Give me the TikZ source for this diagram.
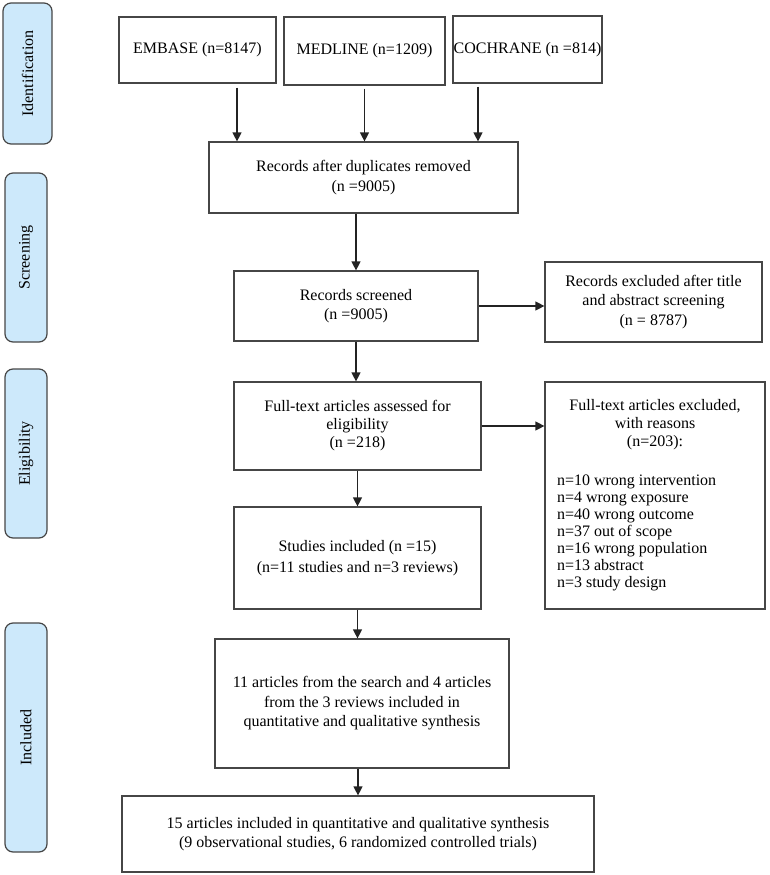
\documentclass[tikz,border=0pt]{standalone}
\usepackage{fontspec}
\setmainfont{Liberation Serif}
\usepackage{xcolor}
\usepackage{tikz}
\usetikzlibrary{arrows.meta,positioning}
\definecolor{boxgray}{RGB}{70,70,70}
\definecolor{arrowgray}{RGB}{35,35,35}
\definecolor{stageblue}{RGB}{205,233,251}
\tikzset{
  stagebox/.style={draw=boxgray, rounded corners=8pt, line width=1.2pt, fill=stageblue,
    rotate=90, inner sep=0pt, align=center, font={\fontsize{16pt}{19pt}\selectfont}},
  prismabox/.style={draw=boxgray, line width=1.2pt, inner sep=0pt, align=center,
    font={\fontsize{16pt}{19.5pt}\selectfont}},
  flow/.style={-{Triangle[length=9pt,width=9pt]}, line width=1.2pt, draw=arrowgray}
}

\begin{document}
\begin{tikzpicture}[x=1pt,y=-1pt]
\useasboundingbox (0,0) rectangle (769,875);

\node[stagebox, minimum width=141pt, minimum height=49pt] (ident) at (27.5,73.5) {Identification};
\node[stagebox, minimum width=169pt, minimum height=42pt] (screen) at (26,257.5) {Screening};
\node[stagebox, minimum width=169pt, minimum height=42pt] (elig) at (26,453.5) {Eligibility};
\node[stagebox, minimum width=229pt, minimum height=42pt] (incl) at (26,737.5) {Included};

\node[prismabox, minimum width=157pt, minimum height=66pt] (embase) at (197.5,50) {EMBASE (n=8147)};
\node[prismabox, minimum width=161pt, minimum height=68pt] (medline) at (364.5,51) {MEDLINE (n=1209)};
\node[prismabox, minimum width=149pt, minimum height=67pt] (cochrane) at (527.5,49.5) {COCHRANE (n =814)};
\node[prismabox, minimum width=309pt, minimum height=71pt] (dup) at (363.5,177.5) {Records after duplicates removed\\(n =9005)};
\node[prismabox, minimum width=244pt, minimum height=70pt] (screened) at (356,306) {Records screened\\(n =9005)};
\node[prismabox, minimum width=217pt, minimum height=80pt] (excl1) at (653.5,302) {Records excluded after title\\and abstract screening\\(n = 8787)};
\node[prismabox, minimum width=247pt, minimum height=88pt,
      font={\fontsize{16pt}{18pt}\selectfont}] (fulltext) at (357.5,426) {Full-text articles assessed for\\eligibility\\(n =218)};
\node[prismabox, minimum width=220pt, minimum height=227pt, inner xsep=12pt,
      font={\fontsize{16pt}{17pt}\selectfont}] (excl2) at (655,495.5) {%
  \begin{tabular}{@{}p{196pt}@{}}
  \multicolumn{1}{@{}c@{}}{Full-text articles excluded,}\\[1pt]
  \multicolumn{1}{@{}c@{}}{with reasons}\\[1pt]
  \multicolumn{1}{@{}c@{}}{(n=203):}\\[22pt]
  n=10 wrong intervention\\
  n=4 wrong exposure\\
  n=40 wrong outcome\\
  n=37 out of scope\\
  n=16 wrong population\\
  n=13 abstract\\
  n=3 study design
  \end{tabular}};
\node[prismabox, minimum width=247pt, minimum height=102pt] (studies) at (357.5,558) {Studies included (n =15)\\[2pt](n=11 studies and n=3 reviews)};
\node[prismabox, minimum width=294pt, minimum height=129pt] (synth) at (362,703.5) {11 articles from the search and 4 articles\\from the 3 reviews included in\\quantitative and qualitative synthesis};
\node[prismabox, minimum width=472pt, minimum height=76pt] (final) at (358,834) {15 articles included in quantitative and qualitative synthesis\\(9 observational studies, 6 randomized controlled trials)};

\draw[flow, shorten <=4pt] ([xshift=39.5pt]embase.south) -- ([xshift=39.5pt]embase.south |- dup.north);
\draw[flow, shorten <=3pt] (medline.south) -- (medline.south |- dup.north);
\draw[flow, shorten <=3pt] ([xshift=-49.5pt]cochrane.south) -- ([xshift=-49.5pt]cochrane.south |- dup.north);
\draw[flow] (dup.south -| screened.north) -- (screened.north);
\draw[flow] (screened.east) -- (screened.east -| excl1.west);
\draw[flow] (screened.south) -- (screened.south |- fulltext.north);
\draw[flow] (fulltext.east) -- (fulltext.east -| excl2.west);
\draw[flow] (fulltext.south) -- (studies.north);
\draw[flow] (studies.south) -- (studies.south |- synth.north);
\draw[flow] (final.north |- synth.south) -- (final.north);
\end{tikzpicture}
\end{document}
